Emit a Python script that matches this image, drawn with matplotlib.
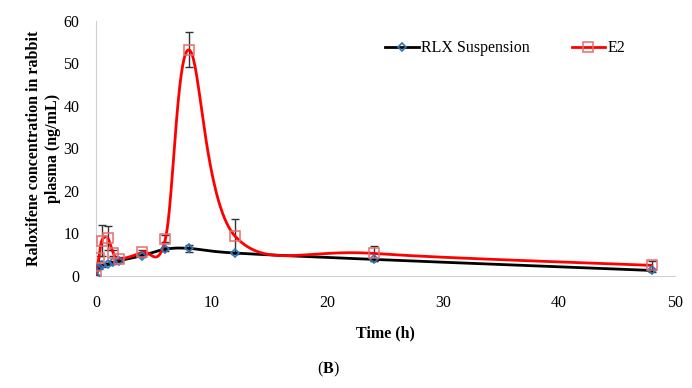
import matplotlib
matplotlib.use('Agg')
import matplotlib.pyplot as plt
import numpy as np

# sampling times (h)
times = [0, 0.25, 0.5, 1, 1.5, 2, 4, 6, 8, 12, 24, 48]

# plasma concentrations (ng/mL)
rlx = [0, 2.0, 2.5, 2.8, 3.2, 3.6, 4.8, 6.3, 6.5, 5.4, 3.9, 1.3]
rlx_err = [0, 0.3, 0.3, 0.3, 0.3, 0.3, 0.4, 0.5, 0.8, 0.3, 0.3, 0.3]
e2 = [0, 4.2, 8.3, 9.0, 5.4, 4.0, 5.6, 8.8, 53.2, 9.4, 5.3, 2.5]
e2_err = [0, 0.6, 3.6, 2.8, 0.8, 0.5, 0.6, 0.8, 4.1, 4.1, 1.8, 1.0]


def smooth(x, y, n=40):
    # Excel-like smoothed line: cubic bezier with catmull-rom control points
    x = np.asarray(x, float)
    y = np.asarray(y, float)
    px = np.concatenate([[x[0]], x, [x[-1]]])
    py = np.concatenate([[y[0]], y, [y[-1]]])
    xs, ys = [], []
    t = np.linspace(0, 1, n)
    for i in range(1, len(px) - 2):
        p0 = np.array([px[i], py[i]])
        p3 = np.array([px[i + 1], py[i + 1]])
        c1 = p0 + (np.array([px[i + 1], py[i + 1]]) - np.array([px[i - 1], py[i - 1]])) / 6
        c2 = p3 - (np.array([px[i + 2], py[i + 2]]) - np.array([px[i], py[i]])) / 6
        b = ((1 - t) ** 3)[:, None] * p0 + (3 * (1 - t) ** 2 * t)[:, None] * c1 \
            + (3 * (1 - t) * t ** 2)[:, None] * c2 + (t ** 3)[:, None] * p3
        xs.extend(b[:, 0])
        ys.extend(b[:, 1])
    return xs, ys


plt.rcParams['font.family'] = ['Liberation Serif', 'DejaVu Serif']
plt.rcParams['mathtext.fontset'] = 'custom'
plt.rcParams['mathtext.rm'] = 'Liberation Serif'
plt.rcParams['mathtext.bf'] = 'Liberation Serif:bold'

fig = plt.figure(figsize=(6.92, 3.88), dpi=100)
ax = fig.add_axes([0.1387, 0.2887, 0.8367, 0.6572])

# error bars (black, capped)
ax.errorbar(times, rlx, yerr=rlx_err, fmt='none', ecolor='#333333', elinewidth=1, capsize=3, zorder=2)
ax.errorbar(times, e2, yerr=e2_err, fmt='none', ecolor='#333333', elinewidth=1, capsize=3, zorder=2)

# smoothed lines
sx, sy = smooth(times, rlx)
ax.plot(sx, sy, color='black', lw=2, zorder=3)
sx, sy = smooth(times, e2)
ax.plot(sx, sy, color='#FF0000', lw=2, zorder=3)

# markers
ax.plot(times, rlx, ls='none', marker='D', ms=4, mfc='none', mec='#2E75B6', mew=1.2, zorder=4)
ax.plot(times, e2, ls='none', marker='s', ms=6.5, mfc='none', mec='#E46C6C', mew=1.1, zorder=4)

# legend handles
h1, = ax.plot([], [], color='black', lw=2, marker='D', ms=4, mfc='none', mec='#2E75B6', mew=1.2)
h2, = ax.plot([], [], color='#FF0000', lw=2, marker='s', ms=6.5, mfc='none', mec='#E46C6C', mew=1.1)
ax.legend([h1, h2], ['RLX Suspension', 'E2'], loc='upper left', ncol=2, frameon=False,
          fontsize=11.5, handlelength=2.1, columnspacing=2.6, handletextpad=0.15,
          bbox_to_anchor=(0.475, 0.98))

ax.set_xlim(0, 50)
ax.set_ylim(0, 60)
ax.set_xticks(range(0, 51, 10))
ax.set_yticks(range(0, 61, 10))
ax.tick_params(axis='x', length=0, labelsize=11.5, pad=14)
ax.tick_params(axis='y', length=0, labelsize=11.5, pad=12)
for s in ['top', 'right']:
    ax.spines[s].set_visible(False)
for s in ['left', 'bottom']:
    ax.spines[s].set_color('#D0D0D0')

ax.set_xlabel('Time (h)', fontsize=11.5, fontweight='bold', labelpad=10)
ax.set_ylabel('Raloxifene concentration in rabbit\nplasma (ng/mL)', fontsize=11.5,
              fontweight='bold', labelpad=2)

fig.text(0.475, 0.047, r'($\mathbf{B}$)', fontsize=11.5, ha='center', va='center')

fig.savefig('out.png', dpi=100, facecolor='white')
